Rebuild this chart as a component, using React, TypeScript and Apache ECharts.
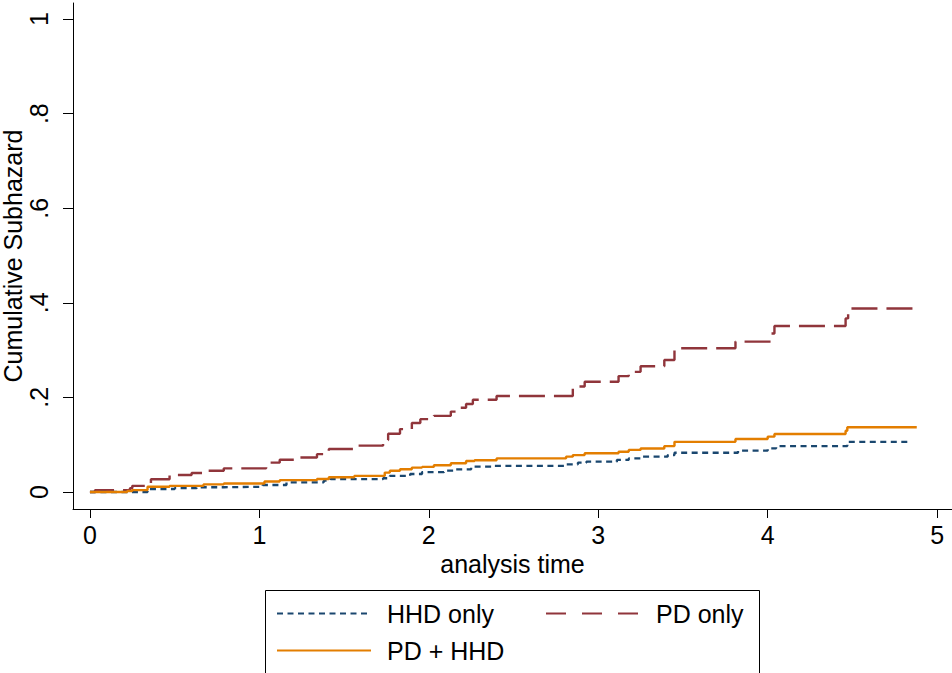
import React, { useEffect, useRef } from "react";
import * as echarts from "echarts";

// ---- data ----
const hhdTimes = [0, 0.34, 0.5, 0.63, 0.79, 1.02, 1.16, 1.38, 1.42, 1.73, 1.77, 1.89, 1.96, 2.09, 2.16, 2.25, 2.37, 2.81, 2.88, 2.93, 3.11, 3.18, 3.25, 3.41, 3.45, 3.825, 4.0, 4.05, 4.47, 4.85];
const hhdValues = [0, 0.0063, 0.008, 0.01, 0.011, 0.0148, 0.0205, 0.024, 0.027, 0.029, 0.034, 0.038, 0.042, 0.045, 0.048, 0.0535, 0.055, 0.0585, 0.062, 0.064, 0.0677, 0.071, 0.0747, 0.078, 0.083, 0.0874, 0.0923, 0.097, 0.106, 0.106];

const pdTimes = [0, 0.03, 0.236, 0.25, 0.36, 0.47, 0.6, 0.68, 0.79, 1.04, 1.12, 1.21, 1.34, 1.41, 1.57, 1.73, 1.76, 1.83, 1.9, 1.95, 2.03, 2.13, 2.18, 2.22, 2.26, 2.4, 2.85, 2.92, 3.12, 3.18, 3.25, 3.39, 3.45, 3.81, 4.02, 4.04, 4.46, 4.475, 4.88];
const pdValues = [0, 0.004, 0.008, 0.013, 0.027, 0.036, 0.04, 0.045, 0.05, 0.062, 0.068, 0.073, 0.08, 0.091, 0.098, 0.11, 0.123, 0.133, 0.146, 0.154, 0.161, 0.17, 0.178, 0.186, 0.195, 0.203, 0.223, 0.233, 0.245, 0.254, 0.266, 0.279, 0.304, 0.318, 0.335, 0.351, 0.367, 0.388, 0.388];

const bothTimes = [0, 0.22, 0.25, 0.34, 0.47, 0.67, 0.79, 1.03, 1.12, 1.34, 1.41, 1.56, 1.74, 1.77, 1.83, 1.9, 1.96, 2.03, 2.13, 2.22, 2.27, 2.4, 2.81, 2.85, 2.92, 3.12, 3.18, 3.25, 3.39, 3.45, 3.81, 4.0, 4.04, 4.46, 4.47, 4.88];
const bothValues = [0, 0.002, 0.004, 0.011, 0.013, 0.016, 0.018, 0.022, 0.025, 0.0275, 0.031, 0.034, 0.041, 0.045, 0.048, 0.0515, 0.053, 0.0565, 0.0606, 0.0655, 0.067, 0.071, 0.0747, 0.078, 0.082, 0.085, 0.089, 0.092, 0.097, 0.106, 0.112, 0.117, 0.1226, 0.1296, 0.137, 0.137];

const seriesNames = ["HHD only", "PD only", "PD + HHD"];
const xTicks = [0, 1, 2, 3, 4, 5];
const xTickLabels = ["0", "1", "2", "3", "4", "5"];
const yTicks = [0, 0.2, 0.4, 0.6, 0.8, 1];
const yTickLabels = ["0", ".2", ".4", ".6", ".8", "1"];

const FONT = "'Liberation Sans', Arial, Helvetica, sans-serif";

function pairs(t: number[], v: number[]) {
  return t.map((x, i) => [x, v[i]]);
}

function labelFor(ticks: number[], labels: string[]) {
  return (val: number) => {
    const i = ticks.findIndex((t) => Math.abs(t - val) < 1e-6);
    return i >= 0 ? labels[i] : "";
  };
}

export default function App() {
  const ref = useRef<HTMLDivElement>(null);
  useEffect(() => {
    document.body.style.margin = "0";
    if (!ref.current) return;
    const chart = echarts.init(ref.current, undefined, { renderer: "svg" });
    const legendCommon = {
      orient: "vertical",
      top: 601,
      itemWidth: 94,
      itemHeight: 25,
      itemGap: 12,
      padding: 0,
      selectedMode: false,
      itemStyle: { opacity: 0 },
      textStyle: { fontSize: 25, color: "#000", fontFamily: FONT, padding: [0, 0, 0, 11] },
    };
    chart.setOption({
      animation: false,
      backgroundColor: "#ffffff",
      grid: { left: 73, right: 0, top: 3, bottom: 164, containLabel: false, outerBoundsMode: "none" },
      xAxis: {
        type: "value",
        min: -0.1,
        max: 5.088,
        name: "analysis time",
        nameLocation: "middle",
        nameGap: 42,
        nameMoveOverlap: false,
        nameTextStyle: { fontSize: 25, color: "#000", fontFamily: FONT },
        axisLine: { onZero: false, lineStyle: { color: "#000", width: 1 } },
        axisTick: { show: true, length: 9, customValues: xTicks, lineStyle: { color: "#000" } },
        axisLabel: {
          customValues: xTicks,
          formatter: labelFor(xTicks, xTickLabels),
          fontSize: 25,
          color: "#000",
          fontFamily: FONT,
          margin: 13,
        },
        splitLine: { show: false },
      },
      yAxis: {
        type: "value",
        min: -0.036,
        max: 1.034,
        name: "Cumulative Subhazard",
        nameLocation: "middle",
        nameRotate: 90,
        nameGap: 48,
        nameMoveOverlap: false,
        nameTextStyle: { fontSize: 25, color: "#000", fontFamily: FONT },
        axisLine: { show: true, onZero: false, lineStyle: { color: "#000", width: 1 } },
        axisTick: { show: true, length: 10, customValues: yTicks, lineStyle: { color: "#000" } },
        axisLabel: {
          customValues: yTicks,
          formatter: labelFor(yTicks, yTickLabels),
          rotate: 90,
          fontSize: 25,
          color: "#000",
          fontFamily: FONT,
          margin: 22,
        },
        splitLine: { show: false },
      },
      legend: [
        { ...legendCommon, left: 276, data: [seriesNames[0], seriesNames[2]] },
        {
          ...legendCommon,
          left: 545,
          data: [{ name: seriesNames[1], lineStyle: { type: [20, 16] } }],
        },
      ],
      graphic: [
        {
          type: "rect",
          silent: true,
          shape: { x: 265.5, y: 590.5, width: 494, height: 110 },
          style: { fill: "none", stroke: "#000", lineWidth: 1 },
        },
      ],
      series: [
        {
          name: seriesNames[0],
          type: "line",
          step: "end",
          symbol: "none",
          data: pairs(hhdTimes, hhdValues),
          lineStyle: { color: "#1a476f", width: 2.3, type: [6, 4.5] },
          itemStyle: { color: "#1a476f" },
          z: 3,
        },
        {
          name: seriesNames[1],
          type: "line",
          step: "end",
          symbol: "none",
          data: pairs(pdTimes, pdValues),
          lineStyle: { color: "#90353b", width: 2.4, type: [26, 9] },
          itemStyle: { color: "#90353b" },
          z: 2,
        },
        {
          name: seriesNames[2],
          type: "line",
          step: "end",
          symbol: "none",
          data: pairs(bothTimes, bothValues),
          lineStyle: { color: "#e37e00", width: 2.4, type: "solid" },
          itemStyle: { color: "#e37e00" },
          z: 4,
        },
      ],
    });
    return () => chart.dispose();
  }, []);
  return <div ref={ref} style={{ width: 952, height: 673 }} />;
}
